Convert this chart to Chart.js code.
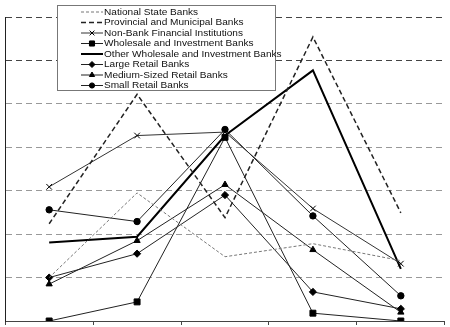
<!DOCTYPE html>
<html>
<head>
<meta charset="utf-8">
<script src="https://cdn.jsdelivr.net/npm/chart.js"></script>
<style>
  html, body { margin: 0; padding: 0; background: #fff; }
  #wrap { width: 450px; height: 327px; position: relative; }
</style>
</head>
<body>
<div id="wrap"><canvas id="myChart"></canvas></div>
<script>
// -------------------------data----------------------
const categories = ["1", "2", "3", "4", "5"];
const seriesNames = [
  "National State Banks",
  "Provincial and Municipal Banks",
  "Non-Bank Financial Institutions",
  "Wholesale and Investment Banks",
  "Other Wholesale and Investment Banks",
  "Large Retail Banks",
  "Medium-Sized Retail Banks",
  "Small Retail Banks"
];
const nationalState   = [1.00, 2.95, 1.48, 1.78, 1.39];
const provincial      = [2.24, 5.22, 2.38, 6.54, 2.49];
const nonBank         = [3.09, 4.27, 4.35, 2.59, 1.32];
const wholesale       = [0.00, 0.44, 4.23, 0.18, 0.00];
const otherWholesale  = [1.81, 1.94, 4.27, 5.77, 1.20];
const largeRetail     = [1.00, 1.55, 2.90, 0.67, 0.28];
const mediumRetail    = [0.85, 1.85, 3.14, 1.64, 0.20];
const smallRetail     = [2.56, 2.29, 4.41, 2.42, 0.58];
const yTicks = [0, 1, 2, 3, 4, 5, 6, 7];

const seriesValues = [nationalState, provincial, nonBank, wholesale,
                      otherWholesale, largeRetail, mediumRetail, smallRetail];
const seriesStyle = [
  { color: "#777", width: 1,   dash: [3, 2], point: false,       r: 0 },
  { color: "#222", width: 1.5, dash: [5, 3], point: false,       r: 0 },
  { color: "#333", width: 1,   dash: [],     point: "crossRot",  r: 4 },
  { color: "#222", width: 1,   dash: [],     point: "rect",      r: 4.2 },
  { color: "#000", width: 2,   dash: [],     point: false,       r: 0 },
  { color: "#222", width: 1,   dash: [],     point: "rectRot",   r: 3.6 },
  { color: "#222", width: 1,   dash: [],     point: "triangle",  r: 3.6 },
  { color: "#222", width: 1,   dash: [],     point: "circle",    r: 3.2 }
];

const datasets = seriesNames.map((name, i) => {
  const s = seriesStyle[i];
  return {
    label: name,
    data: seriesValues[i],
    borderColor: s.color,
    backgroundColor: s.color,
    borderWidth: s.width,
    borderDash: s.dash,
    pointStyle: s.point,
    pointRadius: s.r,
    pointBorderWidth: 1,
    pointBackgroundColor: "#000",
    pointBorderColor: "#000",
    tension: 0,
    fill: false
  };
});

// legend drawn in the chart, line sample + marker like the original
const boxLegend = {
  id: "boxLegend",
  afterDraw(chart) {
    const ctx = chart.ctx;
    const x = 57.5, y = 5.5, w = 218, h = 85, rowH = 10.5;
    ctx.save();
    ctx.setLineDash([]);
    ctx.fillStyle = "#fff";
    ctx.fillRect(x, y, w, h);
    ctx.strokeStyle = "#777";
    ctx.lineWidth = 1;
    ctx.strokeRect(x, y, w, h);
    ctx.font = "9px 'Liberation Sans', Arial, sans-serif";
    ctx.textBaseline = "middle";
    chart.data.datasets.forEach((ds, i) => {
      const cy = y + 6.5 + i * rowH;
      ctx.save();
      ctx.strokeStyle = ds.borderColor;
      ctx.lineWidth = ds.borderWidth;
      ctx.setLineDash(ds.borderDash);
      ctx.beginPath();
      ctx.moveTo(81, cy);
      ctx.lineTo(103, cy);
      ctx.stroke();
      ctx.restore();
      if (ds.pointStyle) {
        ctx.save();
        ctx.fillStyle = "#000";
        ctx.strokeStyle = "#000";
        ctx.lineWidth = 1;
        Chart.helpers.drawPoint(ctx, {
          pointStyle: ds.pointStyle, radius: ds.pointRadius - 0.6,
          rotation: 0, borderWidth: 1
        }, 92, cy);
        ctx.restore();
      }
      // text in the original is a bit wider than the font
      ctx.save();
      ctx.translate(104, cy + 0.5);
      ctx.scale(1.12, 1);
      ctx.fillStyle = "#111";
      ctx.fillText(ds.label, 0, 0);
      ctx.restore();
    });
    ctx.restore();
  }
};

new Chart("myChart", {
  type: "line",
  data: { labels: categories, datasets: datasets },
  plugins: [boxLegend],
  options: {
    responsive: true,
    maintainAspectRatio: false,
    animation: false,
    layout: { padding: { top: 17, left: 0, right: 2, bottom: 2 } },
    plugins: {
      legend: { display: false },
      tooltip: { enabled: false }
    },
    scales: {
      x: {
        offset: true,
        ticks: { display: false },
        grid: { offset: true, drawOnChartArea: false, drawTicks: true, tickLength: 4, color: "#444" },
        border: { display: true, color: "#444", width: 1 }
      },
      y: {
        min: yTicks[0],
        max: yTicks[yTicks.length - 1],
        afterBuildTicks: (axis) => { axis.ticks = yTicks.map(v => ({ value: v })); },
        ticks: { display: false },
        grid: {
          drawTicks: false,
          lineWidth: 1,
          color: (c) => (c.tick && c.tick.value >= 6 ? "#444" : "#999")
        },
        border: { display: true, color: "#222", width: 1, dash: [6, 4] }
      }
    }
  }
});
</script>
</body>
</html>
